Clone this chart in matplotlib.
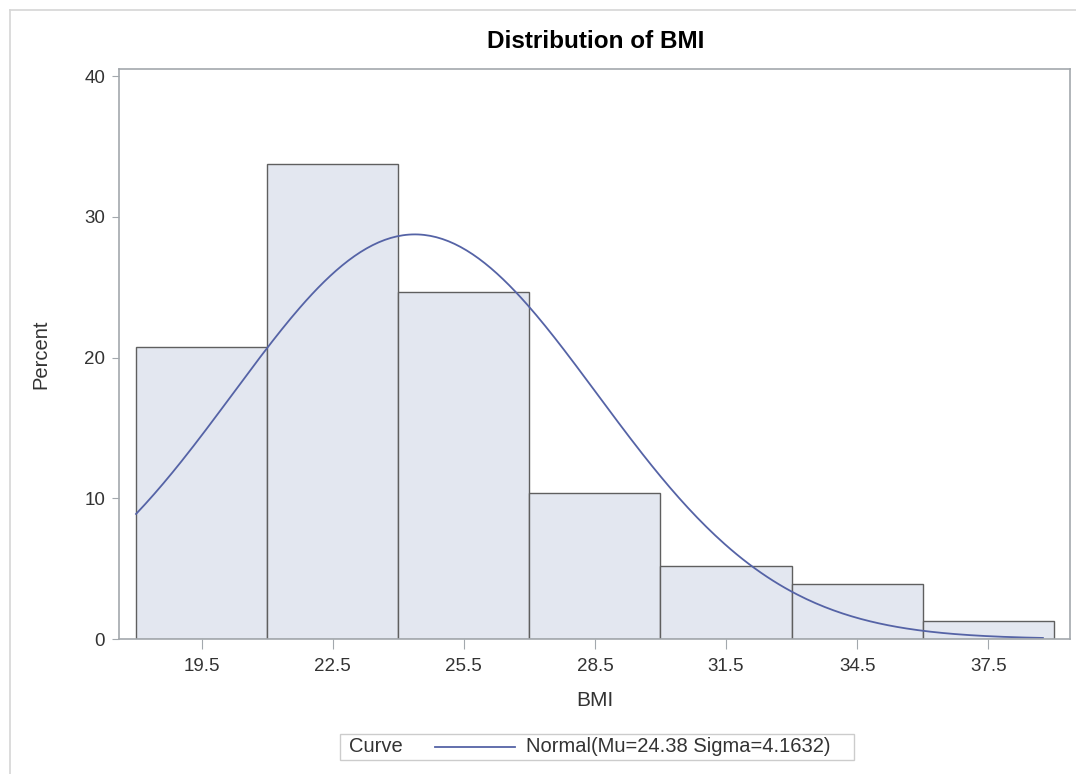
import matplotlib.pyplot as plt
import numpy as np
from matplotlib.lines import Line2D
from matplotlib.patches import Rectangle

plt.rcParams['font.family'] = ['Liberation Sans', 'DejaVu Sans']

# Histogram data (percent per 3-unit bin)
bin_mids = [19.5, 22.5, 25.5, 28.5, 31.5, 34.5, 37.5]
percents = [20.78, 33.77, 24.68, 10.39, 5.19, 3.90, 1.30]
bin_width = 3.0

# Fitted normal curve parameters
mu, sigma = 24.38, 4.1632
curve_start, curve_end = 18.0, 38.75

bar_fill = '#e3e7f0'
bar_edge = '#5f5f5f'
curve_color = '#5563a6'
frame_color = '#a3a8ad'
text_color = '#333333'

fig = plt.figure(figsize=(10.76, 7.74), dpi=100)
ax = fig.add_axes([119 / 1076, 1 - 639 / 774, (1070 - 119) / 1076, (639 - 69) / 774])

ax.bar(bin_mids, percents, width=bin_width, color=bar_fill, edgecolor=bar_edge, linewidth=1.0)

xs = np.linspace(curve_start, curve_end, 300)
ys = 100 * bin_width * np.exp(-0.5 * ((xs - mu) / sigma) ** 2) / (sigma * np.sqrt(2 * np.pi))
ax.plot(xs, ys, color=curve_color, linewidth=1.3)

ax.set_xlim(17.61, 39.37)
ax.set_ylim(0, 40.5)
ax.set_xticks(bin_mids)
ax.set_xticklabels([f'{m:.1f}' for m in bin_mids])
ax.set_yticks([0, 10, 20, 30, 40])

for s in ax.spines.values():
    s.set_color(frame_color)
    s.set_linewidth(1.2)
ax.tick_params(axis='x', length=7, color=frame_color, labelsize=13.5, labelcolor=text_color, pad=7)
ax.tick_params(axis='y', length=5, color=frame_color, labelsize=13.5, labelcolor=text_color, pad=5)

ax.set_xlabel('BMI', fontsize=15, color=text_color, labelpad=11)
ax.set_ylabel('Percent', fontsize=14.5, color=text_color, labelpad=24)
fig.text(596 / 1076, 1 - 42 / 774, 'Distribution of BMI', ha='center', va='center',
         fontsize=17.5, fontweight='bold', color='black')

# Legend box at the bottom
fig.add_artist(Rectangle((340 / 1076, 1 - 760 / 774), 514 / 1076, 26 / 774,
                         transform=fig.transFigure, facecolor='white', edgecolor='#cccccc', linewidth=1))
fig.text(349 / 1076, 1 - 747 / 774, 'Curve', ha='left', va='center', fontsize=14.5, color=text_color)
fig.add_artist(Line2D([435 / 1076, 515 / 1076], [1 - 747 / 774] * 2, transform=fig.transFigure,
                      color=curve_color, linewidth=1.3))
fig.text(526 / 1076, 1 - 747 / 774, f'Normal(Mu={mu} Sigma={sigma})', ha='left', va='center',
         fontsize=14.5, color=text_color)

# Outer page border (left and top)
fig.add_artist(Line2D([10 / 1076, 10 / 1076], [0, 1 - 10 / 774], transform=fig.transFigure,
                      color='#d6d6d6', linewidth=1.2))
fig.add_artist(Line2D([10 / 1076, 1], [1 - 10 / 774] * 2, transform=fig.transFigure,
                      color='#d6d6d6', linewidth=1.2))

fig.savefig('out.png', dpi=100)
